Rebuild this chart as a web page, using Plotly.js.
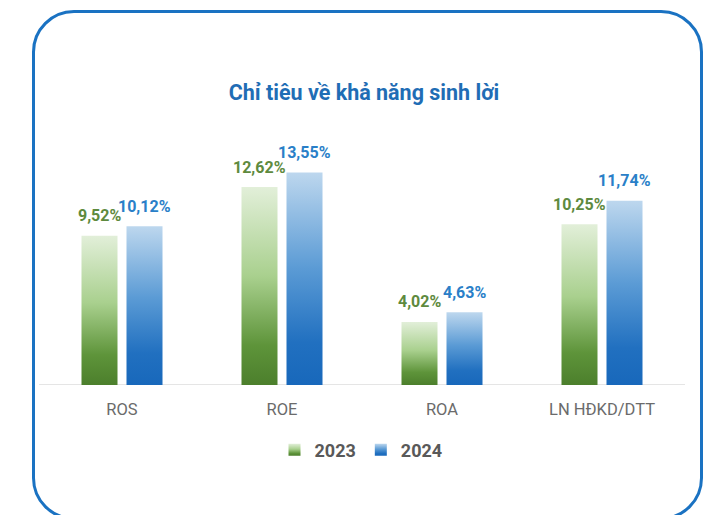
<!DOCTYPE html>
<html>
<head>
<meta charset="utf-8">
<script src="https://cdn.plot.ly/plotly-3.0.1.min.js"></script>
<style>
  html, body { margin:0; padding:0; background:#fff; }
  #wrap { position:relative; width:711px; height:515px; overflow:hidden; }
  #frame { position:absolute; left:32px; top:10px; width:665px; height:504px;
           border:3px solid #1a72c2; border-radius:42px; }
  #chart { position:absolute; left:0; top:0; width:711px; height:515px; }
  #chart .barlayer .trace:nth-of-type(1) path { fill:url(#gG) !important; }
  #chart .barlayer .trace:nth-of-type(2) path { fill:url(#gB) !important; }
</style>
</head>
<body>
<svg width="0" height="0" style="position:absolute;left:0;top:0">
  <defs>
    <linearGradient id="gG" x1="0" y1="0" x2="0" y2="1">
      <stop offset="0" stop-color="#e2efd9"/>
      <stop offset="0.45" stop-color="#a9d08e"/>
      <stop offset="0.8" stop-color="#5e943a"/>
      <stop offset="1" stop-color="#4c7f2c"/>
    </linearGradient>
    <linearGradient id="gB" x1="0" y1="0" x2="0" y2="1">
      <stop offset="0" stop-color="#bdd7ee"/>
      <stop offset="0.45" stop-color="#5b9bd5"/>
      <stop offset="0.8" stop-color="#2170c0"/>
      <stop offset="1" stop-color="#1868bb"/>
    </linearGradient>
  </defs>
</svg>
<div id="wrap">
  <div id="frame"></div>
  <div id="chart"></div>
</div>
<script>
const categories = ["ROS", "ROE", "ROA", "LN HĐKD/DTT"];
const values2023 = [9.52, 12.62, 4.02, 10.25];
const values2024 = [10.12, 13.55, 4.63, 11.74];
const labels2023 = ["9,52%", "12,62%", "4,02%", "10,25%"];
const labels2024 = ["10,12%", "13,55%", "4,63%", "11,74%"];
const seriesNames = ["2023", "2024"];

const font = "Roboto, 'Noto Sans', Arial, sans-serif";
const greenText = "#5e8a3e";
const blueText = "#2a7fc8";

const traces = [
  { type:"bar", name:seriesNames[0], x:categories, y:values2023,
    marker:{color:"#6fa34a"}, hoverinfo:"none" },
  { type:"bar", name:seriesNames[1], x:categories, y:values2024,
    marker:{color:"#2f80cf"}, hoverinfo:"none" }
];

const annotations = [];
categories.forEach((c, i) => {
  annotations.push({ x:c, y:values2023[i], xref:"x", yref:"y", text:labels2023[i],
    showarrow:false, xshift:-22.5, yshift:20, yanchor:"middle",
    font:{family:font, size:16, color:greenText, weight:"bold"} });
  annotations.push({ x:c, y:values2024[i], xref:"x", yref:"y", text:labels2024[i],
    showarrow:false, xshift:22.5, yshift:20, yanchor:"middle",
    font:{family:font, size:16, color:blueText, weight:"bold"} });
});

const layout = {
  width:711, height:515, autosize:false,
  paper_bgcolor:"rgba(0,0,0,0)", plot_bgcolor:"rgba(0,0,0,0)",
  margin:{l:42, r:29, t:134, b:130, autoexpand:false},
  title:{ text:"<b>Chỉ tiêu về khả năng sinh lời</b>", x:364/711, xanchor:"center",
          y:1-92/515, yanchor:"middle", yref:"container",
          font:{family:font, size:21.5, color:"#1f6db5"} },
  barmode:"group", bargap:0.4375, bargroupgap:0.2,
  xaxis:{ showline:false, ticks:"", tickangle:0, automargin:false,
          tickfont:{family:font, size:16.5, color:"#6b6b6b"}, ticklabelstandoff:12,
          showgrid:false, zeroline:false, fixedrange:true },
  yaxis:{ range:[0,16], visible:false, showgrid:false, zeroline:false, fixedrange:true },
  shapes:[{ type:"line", xref:"paper", yref:"y", x0:-3/640, x1:643/640, y0:0, y1:0,
            line:{color:"#dcdcdc", width:1.5}, layer:"below" }],
  showlegend:true,
  legend:{ orientation:"h", x:(361-42)/640, xanchor:"center", y:-0.259, yanchor:"middle",
           font:{family:font, size:18, color:"#595959", weight:"bold"},
           itemwidth:30, traceorder:"normal" },
  annotations:annotations
};

function paint(gd) {
  const ids = ["gG","gB"];
  gd.querySelectorAll(".barlayer .trace").forEach((t, i) => {
    t.querySelectorAll("path").forEach(p => { p.style.setProperty("fill", "url(#" + ids[i] + ")", "important"); });
  });
  gd.querySelectorAll(".legend .traces").forEach((t, i) => {
    t.querySelectorAll(".legendpoints path").forEach(p => {
      p.style.setProperty("fill", "url(#" + ids[i] + ")", "important");
      p.style.stroke = "none";
    });
  });
}

Plotly.newPlot("chart", traces, layout, {displayModeBar:false, staticPlot:true}).then(gd => {
  paint(gd);
  gd.on && gd.on("plotly_afterplot", () => paint(gd));
  setTimeout(() => paint(gd), 50);
});
</script>
</body>
</html>
